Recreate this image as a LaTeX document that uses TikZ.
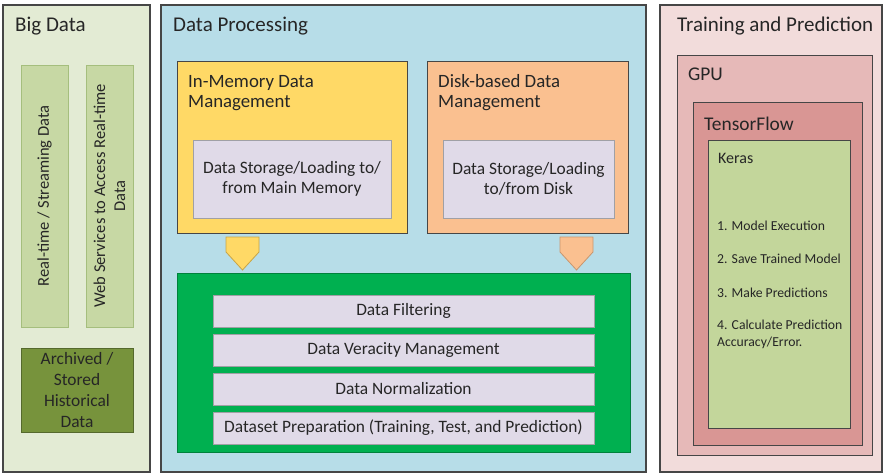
\documentclass[tikz,border=0pt]{standalone}
\usepackage{fontspec}
\setmainfont{Carlito}
\definecolor{ink}{RGB}{38,38,38}
\definecolor{edge}{RGB}{70,70,70}
\definecolor{bdpanel}{RGB}{227,235,212}
\definecolor{bdbox}{RGB}{199,216,164}
\definecolor{bdboxedge}{RGB}{165,190,125}
\definecolor{archfill}{RGB}{119,147,60}
\definecolor{archedge}{RGB}{85,105,45}
\definecolor{dppanel}{RGB}{183,221,232}
\definecolor{memfill}{RGB}{255,217,102}
\definecolor{memedge}{RGB}{200,165,70}
\definecolor{diskfill}{RGB}{250,192,144}
\definecolor{diskedge}{RGB}{200,150,110}
\definecolor{lav}{RGB}{224,218,232}
\definecolor{laveedge}{RGB}{160,160,165}
\definecolor{greenfill}{RGB}{0,176,80}
\definecolor{greenedge}{RGB}{0,130,60}
\definecolor{tppanel}{RGB}{242,220,219}
\definecolor{gpufill}{RGB}{230,185,184}
\definecolor{tffill}{RGB}{217,150,148}
\definecolor{kerasfill}{RGB}{195,214,155}
\tikzset{
  box/.style={draw=#1, line width=0.9pt, anchor=north west, inner sep=0pt, outer sep=0pt},
  panel/.style={box=edge, line width=1.1pt},
  title/.style={anchor=base west, text=ink, font=\fontsize{21}{24}\selectfont, inner sep=0pt},
  subtitle/.style={anchor=base west, text=ink, font=\fontsize{18.8}{20}\selectfont, inner sep=0pt},
  boxtext/.style={text=ink, font=\fontsize{17.4}{20}\selectfont, align=center, inner sep=0pt},
  rowbox/.style={box=laveedge, fill=lav, minimum width=381pt, minimum height=32pt, text=ink,
    font=\fontsize{17.4}{20}\selectfont},
  item/.style={anchor=base west, text=ink, font=\fontsize{13.7}{16}\selectfont, inner sep=0pt},
}
\begin{document}
\begin{tikzpicture}[x=1pt,y=-1pt]
\useasboundingbox[fill=white] (0,0) rectangle (885,473);

% ---- Big Data column ----
\node[panel, fill=bdpanel, minimum width=147pt, minimum height=467pt] (bigdata) at (3,5) {};
\node[title] (bigdatat) at (15,32) {Big Data};
\node[box=bdboxedge, fill=bdbox, minimum width=47pt, minimum height=262pt] (realtime) at (21,65) {};
\node[boxtext, rotate=90, font=\fontsize{16.5}{20}\selectfont] (realtimet) at (realtime.center) {Real-time / Streaming Data};
\node[box=bdboxedge, fill=bdbox, minimum width=47pt, minimum height=262pt] (websvc) at (86,65) {};
\node[boxtext, rotate=90, font=\fontsize{16.5}{20}\selectfont] (websvct) at (websvc.center) {Web Services to Access Real-time\\Data};
\node[box=archedge, fill=archfill, minimum width=112pt, minimum height=84pt] (archived) at (21,348) {};
\node[boxtext, font=\fontsize{17.4}{21}\selectfont] (archivedt) at (archived.center) {Archived /\\Stored\\Historical\\Data};

% ---- Data Processing column ----
\node[panel, fill=dppanel, minimum width=485pt, minimum height=467pt] (dataproc) at (161,5) {};
\node[title] (dataproct) at (173,32) {Data Processing};

\node[box=edge, fill=memfill, minimum width=230pt, minimum height=172pt] (inmem) at (177,61) {};
\node[subtitle] (inmemt1) at (188,88) {In-Memory Data};
\node[subtitle] (inmemt2) at (188,108) {Management};
\node[box=laveedge, fill=lav, minimum width=198pt, minimum height=78pt] (memstore) at (193,140) {};
\node[boxtext] (memstoret) at (memstore.center) {Data Storage/Loading to/\\from Main Memory};

\node[box=edge, fill=diskfill, minimum width=201pt, minimum height=172pt] (disk) at (427,61) {};
\node[subtitle] (diskt1) at (438,88) {Disk-based Data};
\node[subtitle] (diskt2) at (438,108) {Management};
\node[box=laveedge, fill=lav, minimum width=171pt, minimum height=78pt] (diskstore) at (443,140) {};
\node[boxtext] (diskstoret) at (diskstore.center) {Data Storage/Loading\\to/from Disk};

% green processing block
\node[box=greenedge, fill=greenfill, minimum width=453pt, minimum height=179pt] (pipeline) at (177,273) {};
\node[rowbox] (filter) at (213,295) {Data Filtering};
\node[rowbox] (veracity) at (213,334) {Data Veracity Management};
\node[rowbox] (normal) at (213,373) {Data Normalization};
\node[rowbox] (prep) at (213,412) {Dataset Preparation (Training, Test, and Prediction)};

% pentagon arrows feeding the pipeline
\coordinate (la) at (242.5,237);
\coordinate (ra) at (576.5,237);
\draw[draw=memedge, fill=memfill, line width=0.8pt]
  ([xshift=-16.5pt]la) -- ([xshift=16.5pt]la) -- ([xshift=16.5pt,yshift=-15pt]la)
  -- ([yshift=-33pt]la) -- ([xshift=-16.5pt,yshift=-15pt]la) -- cycle;
\draw[draw=diskedge, fill=diskfill, line width=0.8pt]
  ([xshift=-16.5pt]ra) -- ([xshift=16.5pt]ra) -- ([xshift=16.5pt,yshift=-15pt]ra)
  -- ([yshift=-33pt]ra) -- ([xshift=-16.5pt,yshift=-15pt]ra) -- cycle;

% ---- Training and Prediction column ----
\node[panel, fill=tppanel, minimum width=222pt, minimum height=467pt] (train) at (660,5) {};
\node[title] (traint) at (677,32) {Training and Prediction};
\node[box=edge, fill=gpufill, minimum width=195pt, minimum height=400pt] (gpu) at (677,55) {};
\node[title, font=\fontsize{19.4}{22}\selectfont] (gput) at (688,81) {GPU};
\node[box=edge, fill=tffill, minimum width=169pt, minimum height=343pt] (tf) at (693,102) {};
\node[title, font=\fontsize{19.4}{22}\selectfont] (tft) at (704,131) {TensorFlow};
\node[box=edge, fill=kerasfill, minimum width=142pt, minimum height=288pt] (keras) at (708,140) {};
\node[title, font=\fontsize{16}{18}\selectfont] (kerast) at (718,164) {Keras};
\node[item] (step1) at (717,230) {1. Model Execution};
\node[item] (step2) at (717,263) {2. Save Trained Model};
\node[item] (step3) at (717,297) {3. Make Predictions};
\node[item] (step4a) at (717,329) {4. Calculate Prediction};
\node[item] (step4b) at (717,346) {Accuracy/Error.};
\end{tikzpicture}
\end{document}
